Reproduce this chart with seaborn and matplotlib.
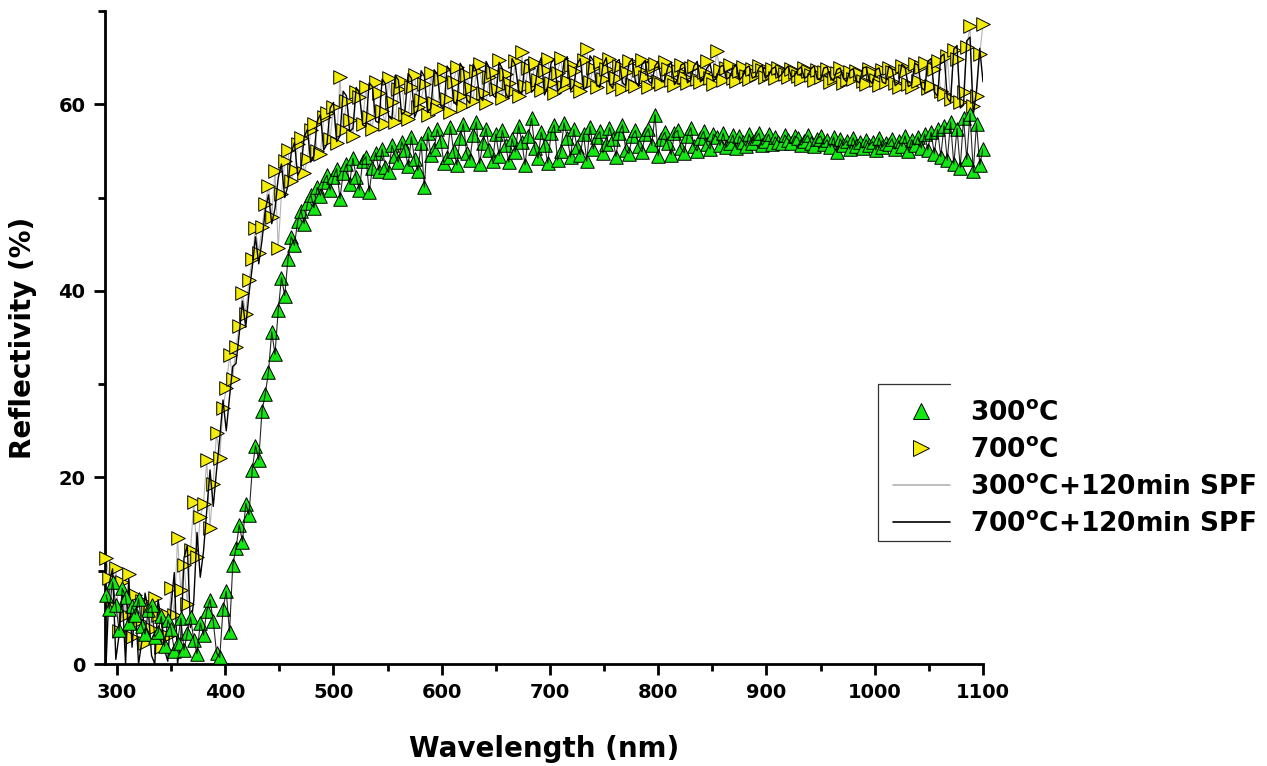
import matplotlib
matplotlib.use("Agg")
import matplotlib.pyplot as plt
import seaborn as sns
import numpy as np
from matplotlib.lines import Line2D
from matplotlib.ticker import MultipleLocator

# wavelength grid (nm), 3 nm steps from 290 to 1100
wavelength = np.arange(290, 1101, 3)

# reflectivity (%), one row = 30 nm
r_300 = [
    7.4, 5.9, 8.8, 6.3, 3.6, 8.1, 7.2, 4.4, 6.2, 5.3,
    7.0, 4.1, 3.2, 5.8, 6.3, 2.9, 3.4, 5.1, 1.9, 4.7,
    3.8, 1.4, 2.3, 4.9, 1.5, 3.3, 5.0, 2.6, 1.1, 4.4,
    3.1, 5.7, 6.9, 4.6, 1.2, 0.7, 5.9, 7.8, 3.4, 10.6,
    12.4, 14.9, 13.1, 17.2, 16.0, 20.8, 23.4, 21.9, 27.1, 28.9,
    31.3, 35.6, 33.2, 37.9, 41.4, 39.5, 43.4, 45.8, 44.9, 47.5,
    48.6, 47.2, 49.4, 50.3, 48.9, 51.1, 50.2, 51.7, 52.4, 50.8,
    52.2, 53.1, 49.9, 52.6, 53.6, 51.5, 54.2, 52.2, 50.8, 53.9,
    54.4, 50.6, 53.2, 54.8, 52.9, 55.2, 53.3, 52.7, 55.6, 54.5,
    53.8, 56.0, 55.1, 53.4, 56.5, 54.1, 52.9, 55.8, 51.1, 56.9,
    54.6, 55.2, 57.3, 56.1, 53.7, 54.3, 57.6, 55.0, 53.5, 56.4,
    57.9, 54.8, 54.0, 56.7, 58.1, 53.6, 55.9, 57.4, 55.1, 53.9,
    56.8, 54.5, 57.2, 55.6, 53.8, 56.3, 54.9, 57.7, 56.0, 53.5,
    56.6, 58.5, 55.3, 54.2, 57.0, 55.6, 53.7, 56.9, 57.8, 54.0,
    55.0, 58.0, 56.4, 54.3, 57.3, 55.4, 54.6, 56.8, 53.9, 57.6,
    55.2, 56.5, 57.1, 54.8, 55.7, 57.5, 56.3, 54.4, 56.9, 57.8,
    55.1, 54.7, 56.6, 57.2, 55.5, 54.9, 56.8, 57.4, 55.6, 58.9,
    54.5, 56.3, 57.0, 55.8, 54.6, 56.9, 57.2, 55.3, 54.8, 56.6,
    57.5, 55.5, 55.0, 56.4, 57.1, 55.7, 55.2, 56.8, 56.5, 55.6,
    56.9, 55.4, 55.9, 56.7, 55.3, 56.6, 56.0, 55.5, 56.8, 55.8,
    56.4, 56.9, 55.6, 56.1, 56.8, 55.7, 56.5, 56.0, 55.9, 56.7,
    56.2, 55.8, 56.6, 56.4, 55.6, 56.1, 56.7, 55.9, 55.5, 56.3,
    56.6, 55.7, 56.2, 55.4, 56.5, 54.9, 56.3, 55.6, 56.1, 55.2,
    56.4, 55.5, 56.0, 55.3, 56.2, 55.6, 56.0, 55.1, 56.4, 55.4,
    55.9, 55.7, 56.3, 55.2, 56.1, 55.5, 56.6, 55.0, 56.2, 55.6,
    56.5, 55.3, 56.8, 55.1, 57.0, 54.7, 57.3, 54.4, 57.7, 54.0,
    58.1, 53.6, 57.4, 53.2, 58.5, 54.1, 59.0, 52.8, 57.9, 53.5,
    55.2,
]

r_700 = [
    11.4, 9.2, 6.1, 10.3, 3.5, 8.8, 5.2, 9.7, 2.9, 7.4,
    4.6, 6.8, 2.2, 5.9, 3.7, 7.1, 5.3, 1.8, 5.4, 3.0,
    8.1, 5.3, 13.5, 7.9, 10.6, 6.4, 12.2, 17.4, 11.5, 15.8,
    17.2, 21.9, 14.6, 19.3, 24.8, 22.1, 27.4, 29.6, 33.1, 30.6,
    34.0, 36.2, 39.8, 37.5, 41.2, 43.4, 46.7, 44.1, 46.8, 49.3,
    51.2, 47.9, 52.8, 44.6, 50.4, 53.9, 55.1, 51.8, 53.0, 55.7,
    56.4, 52.6, 54.1, 57.2, 57.9, 55.0, 54.7, 58.6, 59.1, 56.3,
    59.7, 55.8, 62.9, 57.2, 60.4, 58.3, 56.6, 61.3, 60.8, 57.9,
    61.9, 58.6, 57.4, 62.4, 61.2, 59.3, 57.9, 62.8, 60.2, 58.1,
    61.6, 62.5, 59.0, 58.4, 61.9, 63.1, 59.7, 60.5, 62.2, 58.9,
    63.4, 60.1, 59.5, 62.7, 63.8, 60.6, 59.2, 62.4, 64.0, 60.9,
    59.8, 63.1, 61.7, 60.4, 63.6, 64.3, 61.2, 60.1, 62.9, 63.5,
    61.6, 64.8, 60.7, 63.2, 62.3, 61.4, 64.6, 60.9, 65.6, 62.0,
    63.9, 61.8, 64.4, 62.6, 61.5, 63.7, 64.9, 62.3, 61.2, 63.4,
    65.0, 61.9, 62.5, 64.2, 63.6, 62.1, 61.4, 64.7, 65.9, 62.4,
    63.9, 61.8, 64.5, 62.7, 63.8, 64.9, 61.9, 62.8, 64.1, 61.6,
    63.5, 64.6, 62.2, 62.0, 63.7, 64.8, 62.9, 61.8, 63.9, 64.3,
    62.5, 62.2, 64.5, 63.8, 62.6, 62.1, 63.6, 64.2, 62.9, 62.3,
    63.9, 64.1, 62.7, 62.4, 63.5, 64.6, 62.8, 62.2, 65.7, 63.7,
    62.6, 63.9, 64.2, 62.8, 62.5, 63.6, 64.0, 63.0, 62.7, 63.8,
    63.1, 64.1, 63.7, 62.9, 63.2, 63.8, 62.8, 63.9, 63.6, 63.3,
    62.9, 63.8, 63.5, 63.0, 62.7, 63.9, 63.6, 63.1, 62.6, 63.7,
    62.9, 63.5, 63.8, 62.4, 62.8, 63.4, 63.9, 62.3, 62.6, 63.5,
    62.7, 63.6, 63.3, 62.5, 62.2, 63.8, 63.4, 62.6, 62.1, 63.7,
    62.4, 63.9, 63.5, 62.3, 61.9, 64.1, 63.6, 62.2, 61.8, 64.3,
    62.5, 64.0, 64.4, 61.7, 62.0, 63.8, 64.6, 61.4, 61.1, 65.2,
    60.6, 65.8, 64.9, 60.2, 61.3, 66.1, 68.4, 59.8, 60.9, 65.4,
    68.6,
]

r_700_spf = [
    0.0, 8.7, 10.2, 0.5, 3.1, 7.4, 0.0, 9.1, 1.8, 6.5,
    0.0, 2.4, 7.6, 5.8, 0.9, 0.0, 6.9, 4.7, 1.5, 0.3,
    6.2, 9.8, 0.0, 2.6, 11.4, 12.7, 3.9, 6.8, 14.1, 9.3,
    12.1, 16.4, 20.8, 16.9, 20.7, 24.2, 28.3, 25.0, 28.6, 31.9,
    32.2, 35.4, 38.9, 36.1, 39.7, 42.5, 45.8, 42.9, 45.4, 48.6,
    50.3, 47.2, 48.8, 52.1, 53.6, 50.0, 51.3, 54.8, 55.9, 52.4,
    53.1, 56.5, 57.3, 53.8, 54.5, 58.2, 58.9, 55.1, 55.7, 59.6,
    60.2, 56.0, 56.6, 61.4, 60.9, 57.1, 57.4, 61.8, 61.2, 57.8,
    57.6, 62.3, 61.9, 58.2, 58.0, 62.7, 62.2, 58.7, 58.4, 63.1,
    62.6, 58.9, 59.2, 63.3, 62.8, 58.6, 59.5, 63.6, 63.0, 59.1,
    59.6, 63.7, 63.2, 60.0, 59.4, 64.1, 63.5, 60.3, 59.9, 64.4,
    63.8, 60.5, 60.1, 64.3, 63.6, 60.8, 60.4, 64.6, 63.9, 61.0,
    60.7, 64.5, 63.8, 61.2, 60.6, 64.9, 64.2, 61.5, 61.1, 64.7,
    64.8, 61.3, 61.7, 64.1, 65.0, 61.0, 61.9, 64.4, 64.9, 61.4,
    61.8, 64.6, 65.1, 61.5, 62.0, 64.3, 64.9, 61.6, 61.9, 65.2,
    64.7, 62.1, 61.8, 64.2, 65.0, 62.2, 61.7, 64.5, 64.8, 62.3,
    62.0, 64.4, 64.9, 62.4, 61.9, 64.3, 64.7, 62.5, 62.2, 64.1,
    64.6, 62.4, 62.6, 64.0, 64.5, 62.1, 62.7, 64.2, 64.4, 62.3,
    62.6, 64.1, 64.6, 62.4, 62.8, 63.9, 64.3, 62.5, 62.9, 64.0,
    64.2, 62.7, 62.9, 63.8, 64.3, 62.6, 63.0, 63.9, 64.1, 62.8,
    63.0, 63.9, 64.2, 62.8, 63.1, 63.8, 64.0, 62.9, 63.2, 63.7,
    64.1, 62.9, 63.1, 63.7, 64.0, 62.8, 63.0, 63.8, 64.1, 62.7,
    62.6, 63.9, 64.0, 62.9, 62.5, 63.7, 63.9, 62.8, 62.4, 63.6,
    63.8, 62.5, 62.3, 63.9, 64.0, 62.6, 62.2, 63.7, 63.9, 62.4,
    62.2, 64.1, 63.8, 62.0, 62.3, 64.3, 64.0, 61.9, 62.1, 64.4,
    64.2, 61.8, 61.5, 64.6, 64.9, 61.3, 60.9, 65.1, 65.4, 60.7,
    60.2, 65.9, 66.3, 59.6, 59.9, 66.8, 67.2, 58.8, 61.5, 66.0,
    62.4,
]

labels = [r'300$^{\bf o}$C', r'700$^{\bf o}$C',
          r'300$^{\bf o}$C+120min SPF', r'700$^{\bf o}$C+120min SPF']

green = '#14e614'
yellow = '#f4ec0c'
grey = '#b4b4b4'

sns.set_style('ticks')
plt.rcParams['font.family'] = ['DejaVu Sans']
plt.rcParams['font.weight'] = 'bold'
plt.rcParams['axes.labelweight'] = 'bold'
for k in ['text.color', 'axes.labelcolor', 'xtick.color', 'ytick.color', 'axes.edgecolor']:
    plt.rcParams[k] = 'black'

W, H = 1267, 766
fig = plt.figure(figsize=(W / 100, H / 100), dpi=100)
ax = fig.add_axes([105 / W, 102 / H, 878 / W, 653 / H])

# yellow series connected by a thin grey line
sns.lineplot(x=wavelength, y=r_700, color=grey, lw=0.8, sort=False, ax=ax, legend=False)
sns.scatterplot(x=wavelength, y=r_700, marker='>', s=95, color=yellow,
                edgecolor='black', linewidth=0.7, ax=ax, legend=False, clip_on=False, zorder=3)
sns.lineplot(x=wavelength, y=r_700_spf, color='black', lw=1.0, sort=False, ax=ax,
             legend=False, zorder=4)
sns.scatterplot(x=wavelength, y=r_300, marker='^', s=95, color=green,
                edgecolor='black', linewidth=0.7, ax=ax, legend=False, clip_on=False, zorder=5)
sns.lineplot(x=wavelength, y=r_300, color='black', lw=0.8, alpha=0.85, sort=False, ax=ax,
             legend=False, zorder=6)

ax.set_xlim(289, 1100)
ax.set_ylim(0, 70)
ax.xaxis.set_major_locator(MultipleLocator(100))
ax.xaxis.set_minor_locator(MultipleLocator(50))
ax.yaxis.set_major_locator(MultipleLocator(20))
ax.yaxis.set_minor_locator(MultipleLocator(10))
ax.tick_params(which='major', direction='out', length=8, width=2, labelsize=14, pad=6)
ax.tick_params(which='minor', direction='out', length=5, width=2)
sns.despine(ax=ax)
for s in ['left', 'bottom']:
    ax.spines[s].set_linewidth(2)

ax.set_xlabel('Wavelength (nm)', fontsize=20, fontweight='bold')
ax.set_ylabel('Reflectivity (%)', fontsize=20, fontweight='bold')
ax.xaxis.set_label_coords(0.5, -0.108)
ax.yaxis.set_label_coords(-0.077, 0.5)

handles = [
    Line2D([], [], ls='none', marker='^', ms=11, mfc=green, mec='black', mew=0.7),
    Line2D([], [], ls='none', marker='>', ms=11, mfc=yellow, mec='black', mew=0.7),
    Line2D([], [], color=grey, lw=1.2),
    Line2D([], [], color='black', lw=1.2),
]
fig.legend(handles, labels, loc='upper left', bbox_to_anchor=(893 / W, 1 - 400 / H),
           frameon=False, fontsize=19, handlelength=2.15, handletextpad=0.75,
           labelspacing=0.42, borderaxespad=0, borderpad=0)

# three-sided legend box as in the original
fig.add_artist(Line2D(np.array([950, 878, 878, 950]) / W,
                      1 - np.array([384, 384, 541, 541]) / H,
                      transform=fig.transFigure, color='#333333', lw=0.9))

fig.savefig('out.png', dpi=100)
